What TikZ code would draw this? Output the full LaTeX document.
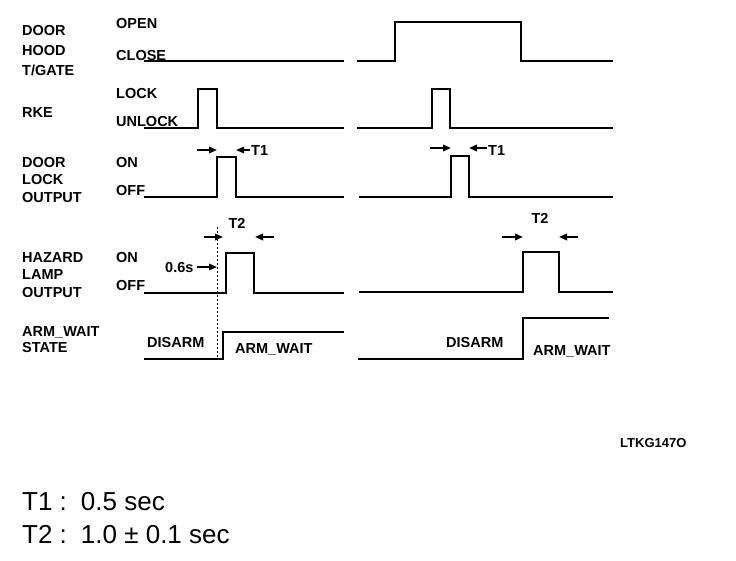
\documentclass[tikz,border=0pt]{standalone}
\usepackage{fontspec}
\setmainfont{Liberation Sans}
\usetikzlibrary{arrows.meta}
\begin{document}
\begin{tikzpicture}[x=1pt,y=-1pt,
  lbl/.style={font=\fontsize{14.5}{17}\selectfont\bfseries, anchor=base west, inner sep=0pt},
  ctr/.style={font=\fontsize{14.5}{17}\selectfont\bfseries, anchor=base, inner sep=0pt},
  big/.style={font=\fontsize{26}{30}\selectfont, anchor=base west, inner sep=0pt},
  sig/.style={line width=2.2pt, line join=miter, line cap=rect},
  tarr/.style={-{Triangle[length=8pt,width=6.5pt]}, line width=1.8pt},
  guide/.style={line width=0.8pt, dash pattern=on 2pt off 2pt}]
\useasboundingbox (0,0) rectangle (736,560);

% left column labels
\node[lbl] (l1a) at (22,35) {DOOR};
\node[lbl] (l1b) at (22,55) {HOOD};
\node[lbl] (l1c) at (22,75) {T/GATE};
\node[lbl] (l2a) at (22,117) {RKE};
\node[lbl] (l3a) at (22,167) {DOOR};
\node[lbl] (l3b) at (22,184) {LOCK};
\node[lbl] (l3c) at (22,202) {OUTPUT};
\node[lbl] (l4a) at (22,262) {HAZARD};
\node[lbl] (l4b) at (22,279) {LAMP};
\node[lbl] (l4c) at (22,297) {OUTPUT};
\node[lbl] (l5a) at (22,336) {ARM\_WAIT};
\node[lbl] (l5b) at (22,352) {STATE};

% level labels
\node[lbl] (s1h) at (116,28) {OPEN};
\node[lbl] (s1l) at (116,60) {CLOSE};
\node[lbl] (s2h) at (116,98) {LOCK};
\node[lbl] (s2l) at (116,126) {UNLOCK};
\node[lbl] (s3h) at (116,167) {ON};
\node[lbl] (s3l) at (116,195) {OFF};
\node[lbl] (s4h) at (116,262) {ON};
\node[lbl] (s4l) at (116,290) {OFF};

% signals, left half
\draw[sig] (145,61) -- (343,61);
\draw[sig] (145,128) -- (198,128) -- (198,89) -- (217,89) -- (217,128) -- (343,128);
\draw[sig] (145,197) -- (217,197) -- (217,157) -- (236,157) -- (236,197) -- (343,197);
\draw[sig] (145,293) -- (226,293) -- (226,253) -- (254,253) -- (254,293) -- (343,293);
\draw[sig] (145,359) -- (223,359) -- (223,332) -- (343,332);

% signals, right half
\draw[sig] (358,61) -- (395,61) -- (395,22) -- (521,22) -- (521,61) -- (612,61);
\draw[sig] (358,128) -- (432,128) -- (432,89) -- (450,89) -- (450,128) -- (612,128);
\draw[sig] (360,197) -- (451,197) -- (451,156) -- (469,156) -- (469,197) -- (612,197);
\draw[sig] (360,292) -- (523,292) -- (523,252) -- (559,252) -- (559,292) -- (612,292);
\draw[sig] (359,359) -- (523,359) -- (523,318) -- (608,318);

% state texts
\node[lbl] (dis1) at (147,347) {DISARM};
\node[lbl] (arm1) at (235,353) {ARM\_WAIT};
\node[lbl] (dis2) at (446,347) {DISARM};
\node[lbl] (arm2) at (533,355) {ARM\_WAIT};

% T1 markers
\coordinate (t1a) at (197,150); \coordinate (t1b) at (217,150);
\coordinate (t1c) at (250,150); \coordinate (t1d) at (236,150);
\draw[tarr] (t1a) -- (t1b);
\draw[tarr] (t1c) -- (t1d);
\node[lbl] (t1l) at (251,155) {T1};
\coordinate (t1e) at (430,148); \coordinate (t1f) at (451,148);
\coordinate (t1g) at (487,148); \coordinate (t1h) at (469,148);
\draw[tarr] (t1e) -- (t1f);
\draw[tarr] (t1g) -- (t1h);
\node[lbl] (t1r) at (488,155) {T1};

% T2 markers
\node[ctr] (t2l) at (237,228) {T2};
\coordinate (t2a) at (204,237); \coordinate (t2b) at (223,237);
\coordinate (t2c) at (274,237); \coordinate (t2d) at (255,237);
\draw[tarr] (t2a) -- (t2b);
\draw[tarr] (t2c) -- (t2d);
\node[ctr] (t2r) at (540,223) {T2};
\coordinate (t2e) at (502,237); \coordinate (t2f) at (523,237);
\coordinate (t2g) at (578,237); \coordinate (t2h) at (559,237);
\draw[tarr] (t2e) -- (t2f);
\draw[tarr] (t2g) -- (t2h);

% 0.6 s delay
\node[lbl] (d06) at (165,272) {0.6s};
\coordinate (d06a) at (197,267); \coordinate (d06b) at (217,267);
\draw[tarr] (d06a) -- (d06b);
\coordinate (gtop) at (217,227); \coordinate (gbot) at (217,357);
\draw[guide] (gtop) -- (gbot);

% footer
\node[lbl, font=\fontsize{13}{15}\selectfont\bfseries] (code) at (620,447) {LTKG147O};
\node[big] (n1) at (22,510) {T1 :\, 0.5 sec};
\node[big] (n2) at (22,543) {T2 :\, 1.0 ± 0.1 sec};
\end{tikzpicture}
\end{document}
